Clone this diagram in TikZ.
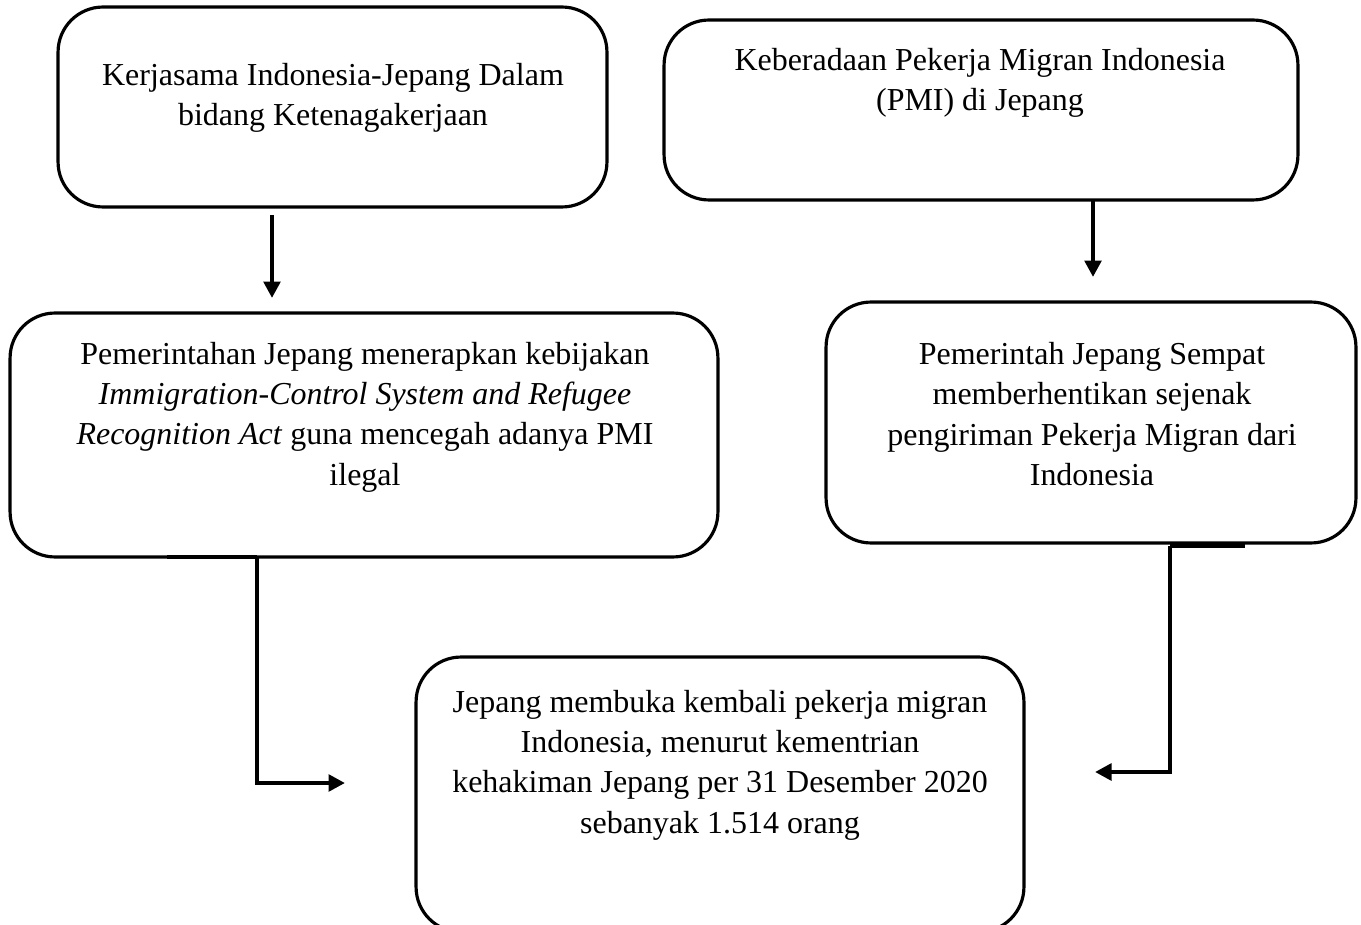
\documentclass[tikz,border=0pt]{standalone}
\usepackage{fontspec}
\setmainfont{Liberation Serif}
\usetikzlibrary{arrows.meta,positioning}
\tikzset{
  kotak/.style={draw, rounded corners=0.9cm, line width=1.8pt, inner sep=0pt},
  teks/.style={align=center, inner sep=0pt, font=\fontsize{18.2}{23}\selectfont},
  panah/.style={line width=2.4pt, -{Triangle[length=0.33cm,width=0.33cm]}},
  garis/.style={line width=2.4pt},
}
\begin{document}
\begin{tikzpicture}[x=0.02cm, y=-0.02cm]
            \useasboundingbox (0,0) rectangle (1361,925);
            % kotak
            \node[kotak, minimum width=10.98cm, minimum height=4cm] (kerja) at (332.5,107) {};
            \node[kotak, minimum width=12.68cm, minimum height=3.6cm] (pmi) at (981,110) {};
            \node[kotak, minimum width=14.16cm, minimum height=4.88cm] (kebijakan) at (364,435) {};
            \node[kotak, minimum width=10.6cm, minimum height=4.82cm] (henti) at (1091,422.5) {};
            \node[kotak, minimum width=12.16cm, minimum height=5.5cm] (buka) at (720,794.5) {};
            % teks
            \node[teks] (tkerja) at (333,98) {Kerjasama Indonesia-Jepang Dalam\\bidang Ketenagakerjaan};
            \node[teks] (tpmi) at (980,83) {Keberadaan Pekerja Migran Indonesia\\(PMI) di Jepang};
            \node[teks] (tkebijakan) at (365,417) {Pemerintahan Jepang menerapkan kebijakan\\\textit{Immigration-Control System and Refugee}\\\textit{Recognition Act} guna mencegah adanya PMI\\ilegal};
            \node[teks] (thenti) at (1092,414) {Pemerintah Jepang Sempat\\memberhentikan sejenak\\pengiriman Pekerja Migran dari\\Indonesia};
            \node[teks] (tbuka) at (720,765) {Jepang membuka kembali pekerja migran\\Indonesia, menurut kementrian\\kehakiman Jepang per 31 Desember 2020\\sebanyak 1.514 orang};
            % titik bantu
            \coordinate (a1) at (272,215);
            \coordinate (a2) at (272,298);
            \coordinate (b1) at (1093,200);
            \coordinate (b2) at (1093,277);
            \coordinate (c0) at (167,557);
            \coordinate (c1) at (257,557);
            \coordinate (c2) at (345,783);
            \coordinate (d0) at (1245,546);
            \coordinate (d1) at (1170,546);
            \coordinate (d2) at (1095,772);
            % panah
            \draw[panah] (a1) -- (a2);
            \draw[panah] (b1) -- (b2);
            \draw[garis] (c0) -- (c1);
            \draw[panah] (c1) |- (c2);
            \draw[garis] (d0) -- (d1);
            \draw[panah] (d1) |- (d2);
\end{tikzpicture}
\end{document}
